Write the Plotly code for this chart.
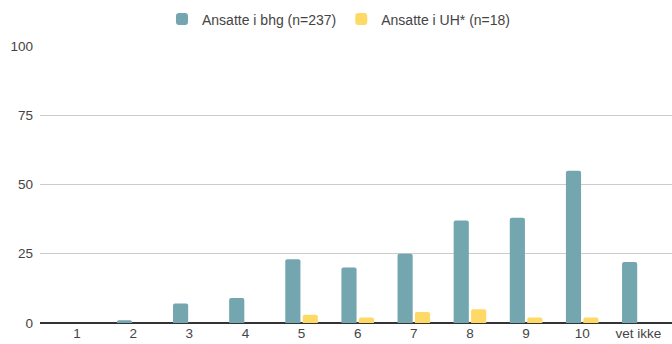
import plotly.graph_objects as go

categories = ["1", "2", "3", "4", "5", "6", "7", "8", "9", "10", "vet ikke"]
bhg_values = [0, 1, 7, 9, 23, 20, 25, 37, 38, 55, 22]
uh_values = [0, 0, 0, 0, 3, 2, 4, 5, 2, 2, 0]
series_names = ["Ansatte i bhg (n=237)", "Ansatte i UH* (n=18)"]
y_ticks = [0, 25, 50, 75, 100]

TEAL = "#73a6af"
YELLOW = "#ffd966"
FONT = "Liberation Sans, Arial, sans-serif"

fig = go.Figure()
fig.add_trace(go.Bar(
    x=list(range(len(categories))), y=bhg_values, name=series_names[0],
    marker=dict(color=TEAL, line=dict(width=0)),
    width=0.27, offset=-0.29,
))
fig.add_trace(go.Bar(
    x=list(range(len(categories))), y=uh_values, name=series_names[1],
    marker=dict(color=YELLOW, line=dict(width=0)),
    width=0.27, offset=0.02,
))

fig.update_layout(
    width=672, height=344,
    margin=dict(l=40, r=0, t=46, b=21),
    paper_bgcolor="white", plot_bgcolor="white",
    font=dict(family=FONT, size=13.5, color="#444444"),
    barmode="overlay",
    barcornerradius=2,
    showlegend=True,
    legend=dict(
        orientation="h", x=0.193, xanchor="left",
        y=0.99, yref="container", yanchor="top",
        font=dict(family=FONT, size=14, color="#444444"),
        itemwidth=30, traceorder="normal",
    ),
    xaxis=dict(
        tickmode="array", tickvals=list(range(len(categories))), ticktext=categories,
        range=[-0.66, 10.6], showgrid=False, zeroline=False,
        showline=False, ticks="", tickfont=dict(size=13.5, color="#444444"),
        fixedrange=True,
    ),
    yaxis=dict(
        range=[0, 100], tickvals=y_ticks, showgrid=True, gridcolor="#cccccc",
        gridwidth=1, zeroline=True, zerolinecolor="#333333", zerolinewidth=1.5,
        showline=False, ticks="", ticklabelstandoff=6,
        tickfont=dict(size=13.5, color="#444444"),
    ),
)

fig.write_html("out.html")
